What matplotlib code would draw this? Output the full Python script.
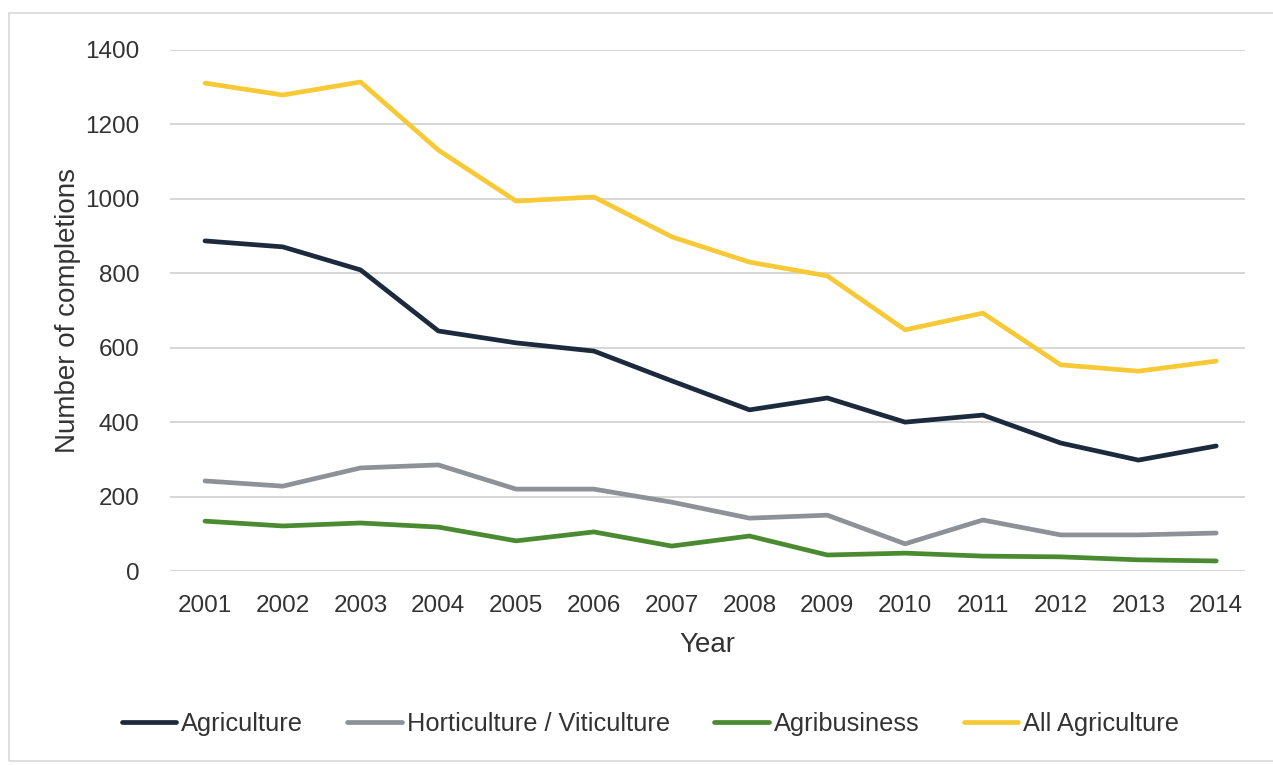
import numpy as np
import matplotlib.pyplot as plt
from matplotlib.patches import Rectangle

plt.rcParams['font.family'] = ['Liberation Sans', 'DejaVu Sans']

# completions per year
years = list(range(2001, 2015))
agriculture = [887, 871, 809, 645, 613, 591, 511, 433, 465, 400, 419, 344, 298, 336]
horticulture = [242, 228, 277, 285, 220, 220, 185, 142, 150, 73, 137, 97, 97, 102]
agribusiness = [134, 121, 129, 118, 81, 105, 67, 94, 43, 48, 40, 38, 30, 27]
all_agriculture = [1311, 1279, 1314, 1131, 994, 1005, 898, 830, 793, 648, 693, 554, 537, 564]

labels = ['Agriculture', 'Horticulture / Viticulture', 'Agribusiness', 'All Agriculture']
colors = ['#1c2a3d', '#8d9299', '#4a8a30', '#f7c936']

fig = plt.figure(figsize=(12.73, 7.65), dpi=100)
fig.patches.append(Rectangle((9/1273, 4/765), 1.0, 748/765, transform=fig.transFigure,
                             fill=False, edgecolor='#d8d8d8', linewidth=1.2))
ax = fig.add_axes([170/1273, 1 - 571/765, 1075/1273, 521/765])

for series, lab, col in zip([agriculture, horticulture, agribusiness, all_agriculture], labels, colors):
    ax.plot(years, series, color=col, linewidth=3.4, label=lab, solid_capstyle='round')

ax.set_xlim(2000.55, 2014.37)
ax.set_ylim(0, 1400)
ax.set_yticks(np.arange(0, 1401, 200))
ax.set_xticks(years)
ax.grid(axis='y', color='#d0d0d0', linewidth=1.2)
ax.set_axisbelow(True)
for s in ax.spines.values():
    s.set_visible(False)
ax.tick_params(length=0, labelsize=17.5, colors='#333333')
ax.tick_params(axis='y', pad=22)
ax.tick_params(axis='x', pad=17)
ax.set_xlabel('Year', fontsize=20, color='#333333', labelpad=11)
ax.set_ylabel('Number of completions', fontsize=20, color='#333333', labelpad=3)

fig.legend(loc='center', bbox_to_anchor=(0.511, 1 - 724/765), ncol=4, frameon=False,
           fontsize=18.3, handlelength=2.15, handletextpad=0.2, columnspacing=1.73,
           labelcolor='#333333')

fig.savefig('out.png', dpi=100)
